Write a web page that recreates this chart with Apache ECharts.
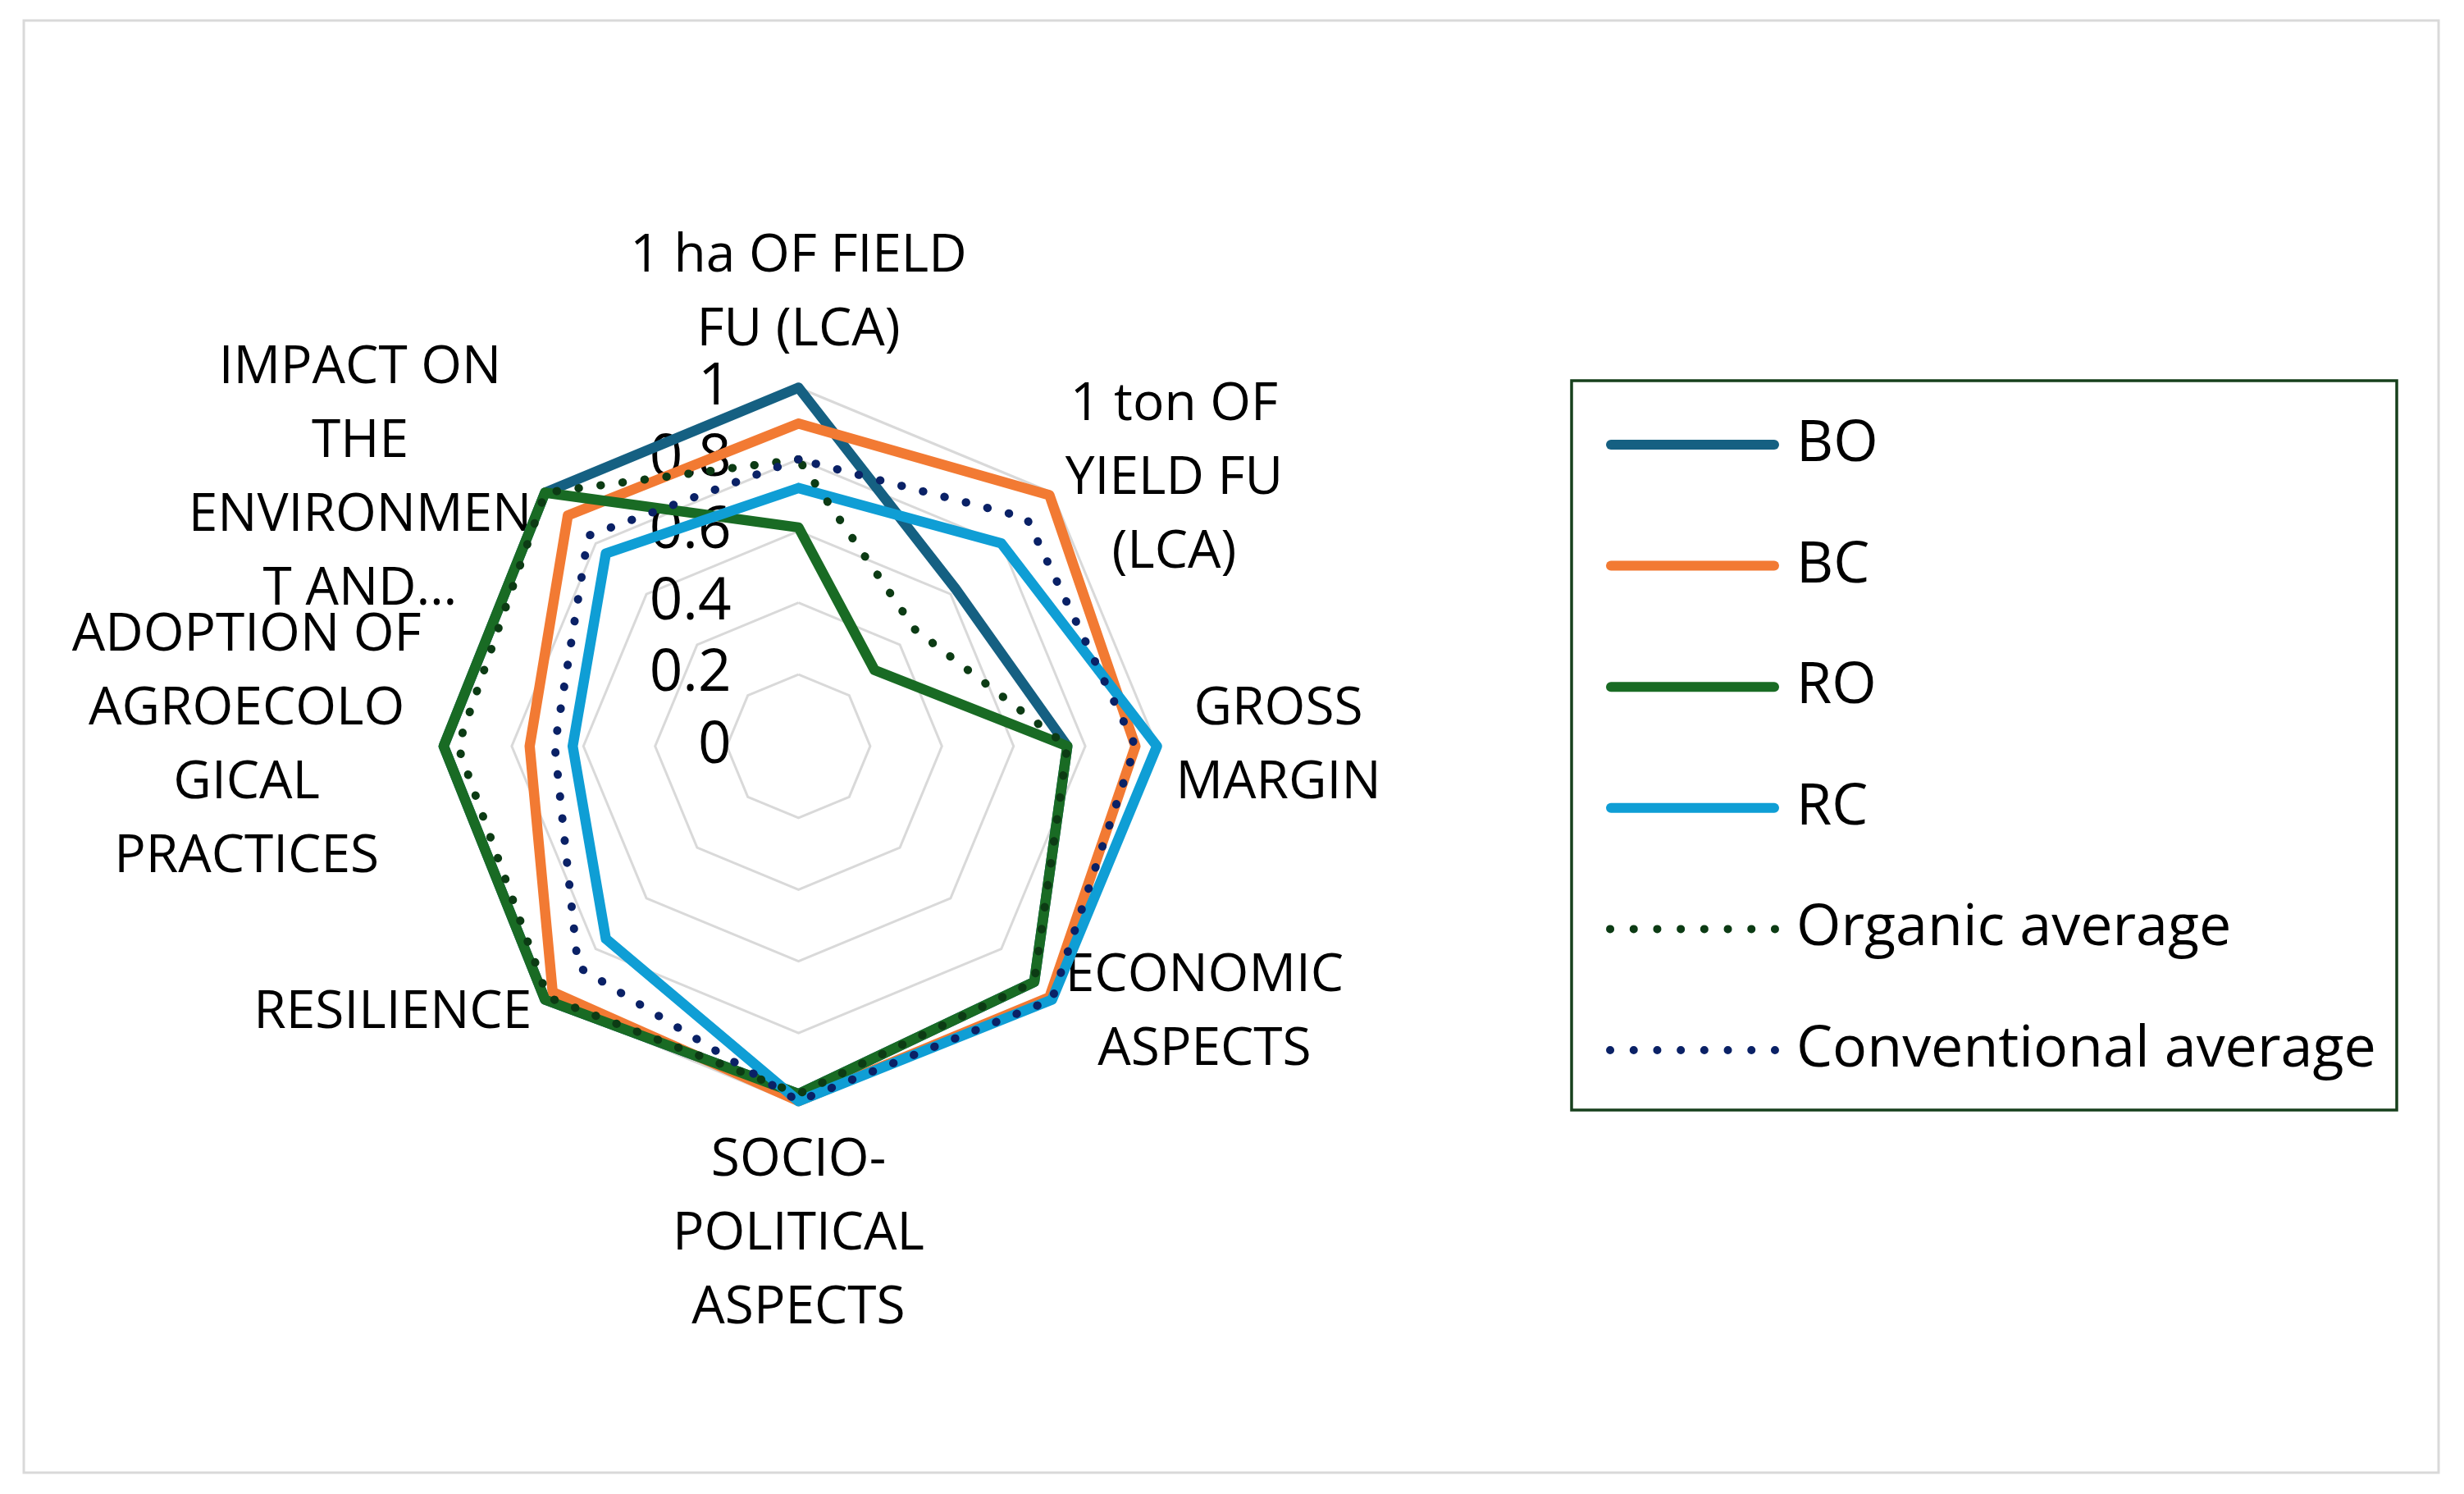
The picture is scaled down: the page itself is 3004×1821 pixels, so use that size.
<!DOCTYPE html>
<html>
<head>
<meta charset="utf-8">
<script src="https://cdn.jsdelivr.net/npm/echarts@6/dist/echarts.min.js"></script>
<style>
html,body{margin:0;padding:0;background:#ffffff;}
#chart{width:3004px;height:1821px;}
</style>
</head>
<body>
<div id="chart"></div>
<script>
// ---- data (axes listed clockwise from the top) ----
const indicatorNames = [
  "1 ha OF FIELD\nFU (LCA)",
  "1 ton OF\nYIELD FU\n(LCA)",
  "GROSS\nMARGIN",
  "ECONOMIC\nASPECTS",
  "SOCIO-\nPOLITICAL\nASPECTS",
  "RESILIENCE",
  "ADOPTION OF\nAGROECOLO\nGICAL\nPRACTICES",
  "IMPACT ON\nTHE\nENVIRONMEN\nT AND\u2026"
];
const seriesNames = ["BO", "BC", "RO", "RC", "Organic average", "Conventional average"];
const BO  = [1.00, 0.62, 0.75, 0.93, 0.97, 1.00, 0.99, 1.00];
const BC  = [0.90, 0.99, 0.94, 0.99, 0.99, 0.97, 0.75, 0.91];
const RO  = [0.61, 0.30, 0.75, 0.93, 0.97, 1.00, 0.99, 1.00];
const RC  = [0.72, 0.80, 1.00, 1.00, 0.99, 0.76, 0.63, 0.76];
const organicAverage      = [0.80, 0.46, 0.75, 0.93, 0.97, 0.99, 0.95, 1.00];
const conventionalAverage = [0.80, 0.90, 0.94, 1.00, 0.99, 0.87, 0.68, 0.83];
const tickLabels = ["0", "0.2", "0.4", "0.6", "0.8", "1"];

// ---- styles ----
const seriesColors = ["#156082", "#F27A33", "#196B24", "#0F9ED5", "#0C3B14", "#0A2166"];
const seriesDotted = [false, false, false, false, true, true];
const FONT = "'Open Sans', 'Liberation Sans', sans-serif";

const allValues = [BO, BC, RO, RC, organicAverage, conventionalAverage];
// ECharts places radar indicators counter-clockwise; reorder so they read clockwise
const order = [0, 7, 6, 5, 4, 3, 2, 1];
const reorder = arr => order.map(i => arr[i]);

const solidIcon = 'path://M6 0H205A6 6 0 0 1 205 12H6A6 6 0 0 1 6 0Z';
let dotPath = 'path://M0 0M0 12';
for (let k = 0; k < 8; k++) {
  const cx = 5 + k * 28.7, r = 5;
  dotPath += 'M' + (cx - r) + ' 6A' + r + ' ' + r + ' 0 1 0 ' + (cx + r) + ' 6A' + r + ' ' + r + ' 0 1 0 ' + (cx - r) + ' 6Z';
}

const nameRich = {
  c:   {align: 'center', fontFamily: FONT, fontSize: 64, lineHeight: 90, color: '#000'},
  top: {align: 'center', fontFamily: FONT, fontSize: 64, lineHeight: 112, color: '#000'},
  bot: {align: 'center', fontFamily: FONT, fontSize: 64, lineHeight: 68, color: '#000'}
};

const chart = echarts.init(document.getElementById('chart'), null, {renderer: 'canvas'});
const option = {
  backgroundColor: '#ffffff',
  animation: false,
  graphic: [
    {type: 'rect', shape: {x: 29, y: 25, width: 2944, height: 1770}, style: {fill: 'none', stroke: '#D9D9D9', lineWidth: 3}, silent: true, z: -1},
    {type: 'rect', shape: {x: 1916, y: 464, width: 1006, height: 889}, style: {fill: 'none', stroke: '#17401C', lineWidth: 3.5}, silent: true, z: -1}
  ],
  legend: {
    orient: 'vertical',
    left: 1958,
    top: 502,
    padding: 0,
    itemWidth: 211,
    itemHeight: 12,
    itemGap: 67.6,
    selectedMode: false,
    textStyle: {fontFamily: FONT, fontSize: 70, color: '#000', lineHeight: 80, padding: [0, 0, 0, 16]},
    data: seriesNames.map((n, i) => ({
      name: n,
      icon: seriesDotted[i] ? dotPath : solidIcon,
      itemStyle: {color: seriesColors[i]}
    }))
  },
  radar: {
    center: [973.5, 909.5],
    radius: 437,
    startAngle: 90,
    shape: 'polygon',
    splitNumber: 5,
    nameGap: 23,
    indicator: order.map((i, k) => {
      const ind = {name: indicatorNames[i], min: 0, max: 1};
      if (k === 0) { ind.axisLabel = {show: true}; }
      return ind;
    }),
    axisName: {
      color: '#000',
      fontFamily: FONT,
      fontSize: 64,
      lineHeight: 90,
      formatter: function (name) {
        const lines = name.split('\n');
        // the top label sits a little lower in the original layout
        if (name === indicatorNames[0]) {
          return lines.map((l, j) => (j === lines.length - 1 ? '{bot|' : '{top|') + l + '}').join('\n');
        }
        return lines.map(l => '{c|' + l + '}').join('\n');
      },
      rich: nameRich
    },
    axisLine: {show: false},
    axisTick: {show: false},
    axisLabel: {
      show: false,
      margin: 82,
      fontFamily: FONT,
      fontSize: 71,
      color: '#000',
      formatter: function (v) { return tickLabels[Math.round(v * (tickLabels.length - 1))]; }
    },
    splitLine: {lineStyle: {color: '#D9D9D9', width: 3}},
    splitArea: {show: false}
  },
  series: [{
    type: 'radar',
    symbol: 'none',
    silent: true,
    data: allValues.map((vals, i) => ({
      name: seriesNames[i],
      value: reorder(vals),
      symbol: 'none',
      itemStyle: {color: seriesColors[i]},
      lineStyle: seriesDotted[i]
        ? {color: seriesColors[i], width: 10, type: [0.5, 26.5], cap: 'round', join: 'round'}
        : {color: seriesColors[i], width: 12.5, type: 'solid', cap: 'round', join: 'round'}
    }))
  }]
};
chart.setOption(option);
</script>
</body>
</html>
